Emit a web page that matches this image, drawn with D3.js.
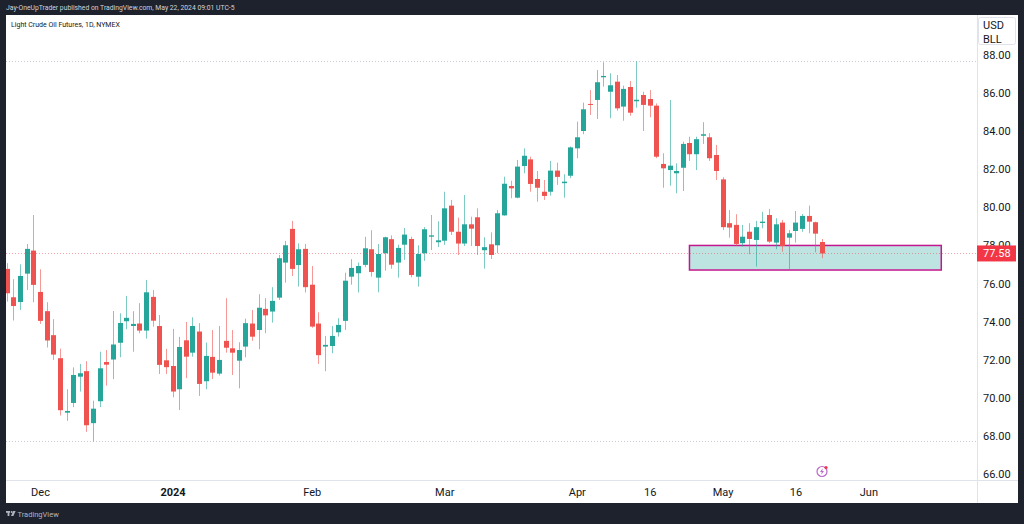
<!DOCTYPE html>
<html>
<head>
<meta charset="utf-8">
<script src="https://cdn.jsdelivr.net/npm/d3@7"></script>
<style>
  body { margin: 0; background: #1e222d; }
  svg { display: block; font-family: Roboto, "Noto Sans", sans-serif; }
</style>
</head>
<body>
<svg width="1024" height="524"></svg>
<script>
// daily bars, Light Crude Oil Futures (NYMEX)
const dates = [
  "2023-11-24", "2023-11-27", "2023-11-28", "2023-11-29", "2023-11-30",
  "2023-12-01", "2023-12-04", "2023-12-05", "2023-12-06", "2023-12-07", "2023-12-08", "2023-12-11", "2023-12-12", "2023-12-13", "2023-12-14",
  "2023-12-15", "2023-12-18", "2023-12-19", "2023-12-20", "2023-12-21", "2023-12-22", "2023-12-26", "2023-12-27", "2023-12-28", "2023-12-29",
  "2024-01-02", "2024-01-03", "2024-01-04", "2024-01-05", "2024-01-08", "2024-01-09", "2024-01-10", "2024-01-11", "2024-01-12", "2024-01-16",
  "2024-01-17", "2024-01-18", "2024-01-19", "2024-01-22", "2024-01-23", "2024-01-24", "2024-01-25", "2024-01-26", "2024-01-29", "2024-01-30", "2024-01-31",
  "2024-02-01", "2024-02-02", "2024-02-05", "2024-02-06", "2024-02-07", "2024-02-08", "2024-02-09", "2024-02-12", "2024-02-13", "2024-02-14",
  "2024-02-15", "2024-02-16", "2024-02-20", "2024-02-21", "2024-02-22", "2024-02-23", "2024-02-26", "2024-02-27", "2024-02-28", "2024-02-29",
  "2024-03-01", "2024-03-04", "2024-03-05", "2024-03-06", "2024-03-07", "2024-03-08", "2024-03-11", "2024-03-12", "2024-03-13", "2024-03-14",
  "2024-03-15", "2024-03-18", "2024-03-19", "2024-03-20", "2024-03-21", "2024-03-22", "2024-03-25", "2024-03-26", "2024-03-27", "2024-03-28",
  "2024-04-01", "2024-04-02", "2024-04-03", "2024-04-04", "2024-04-05", "2024-04-08", "2024-04-09", "2024-04-10", "2024-04-11", "2024-04-12",
  "2024-04-15", "2024-04-16", "2024-04-17", "2024-04-18", "2024-04-19", "2024-04-22", "2024-04-23", "2024-04-24", "2024-04-25", "2024-04-26",
  "2024-04-29", "2024-04-30",
  "2024-05-01", "2024-05-02", "2024-05-03", "2024-05-06", "2024-05-07", "2024-05-08", "2024-05-09", "2024-05-10", "2024-05-13", "2024-05-14",
  "2024-05-15", "2024-05-16", "2024-05-17", "2024-05-20", "2024-05-21", "2024-05-22"
];

const open = [
  76.77, 75.28, 75.03, 76.52, 77.73,
  75.56, 74.55, 73.29, 72.08, 69.22, 69.73, 71.11, 71.40, 68.67, 69.82,
  71.88, 72.01, 72.89, 74.02, 73.77, 73.90, 73.53, 75.30, 73.77, 71.97,
  71.67, 70.45, 73.02, 72.37, 73.48, 70.87, 72.15, 71.27, 72.99, 72.60,
  71.95, 72.69, 73.90, 73.56, 74.67, 74.53, 75.26, 77.10, 78.87, 76.97, 77.82,
  75.94, 73.90, 72.69, 72.72, 73.44, 74.04, 76.36, 76.54, 76.98, 77.80,
  76.31, 77.59, 78.33, 77.10, 78.04, 78.34, 76.36, 77.59, 78.46, 78.17,
  78.25, 80.09, 78.72, 78.10, 79.11, 79.48, 77.75, 78.06, 78.01, 79.58,
  81.12, 80.51, 82.17, 82.52, 81.49, 80.82, 80.82, 81.93, 81.27, 81.66,
  83.10, 84.01, 85.43, 85.64, 86.83, 86.07, 86.60, 85.29, 86.32, 85.57,
  85.90, 85.69, 85.34, 82.28, 81.96, 81.79, 82.08, 83.38, 82.79, 83.76,
  83.68, 82.75,
  81.47, 79.17, 79.08, 78.12, 78.72, 78.29, 79.18, 79.60, 78.15, 79.20,
  78.41, 78.76, 78.87, 79.55, 79.22, 78.18
];
const high = [
  77.07, 76.23, 77.01, 78.08, 79.60,
  76.75, 75.02, 74.13, 72.58, 70.45, 71.60, 71.78, 71.92, 69.85, 72.42,
  72.51, 74.56, 74.44, 75.35, 74.55, 74.97, 76.19, 75.66, 74.35, 72.57,
  73.62, 73.20, 73.98, 74.23, 73.92, 72.90, 73.56, 73.77, 75.23, 73.56,
  72.92, 74.16, 74.61, 75.44, 75.23, 75.81, 77.50, 78.24, 79.29, 78.11, 78.08,
  76.92, 74.49, 73.25, 73.77, 74.18, 76.57, 77.28, 77.10, 78.45, 78.80,
  78.08, 78.46, 78.53, 78.04, 78.92, 78.46, 78.01, 78.96, 79.60, 79.27,
  80.82, 80.39, 79.46, 80.65, 79.51, 79.95, 78.43, 78.69, 79.86, 81.61,
  81.40, 82.49, 83.10, 82.66, 81.91, 81.44, 82.44, 82.35, 81.74, 83.19,
  84.50, 85.50, 86.16, 87.21, 87.62, 87.04, 86.95, 86.39, 86.64, 87.67,
  86.07, 86.16, 85.46, 82.84, 85.64, 82.31, 83.45, 83.71, 83.71, 84.47,
  83.89, 83.28,
  81.58, 79.86, 79.64, 79.08, 79.17, 79.29, 79.77, 79.92, 79.43, 79.34,
  78.81, 79.81, 79.65, 80.09, 79.25, 78.34
];
const low = [
  75.05, 74.06, 74.61, 75.66, 75.02,
  73.88, 72.64, 71.99, 69.07, 68.79, 69.51, 70.33, 68.21, 67.71, 69.51,
  70.64, 70.98, 72.13, 73.60, 72.42, 73.39, 73.11, 73.74, 71.25, 71.25,
  70.03, 69.36, 71.03, 72.16, 70.10, 70.45, 70.98, 71.17, 72.37, 71.20,
  70.50, 72.13, 72.99, 72.55, 73.39, 73.95, 75.14, 76.05, 76.40, 75.84, 75.53,
  73.68, 71.78, 71.40, 72.34, 73.21, 73.56, 75.94, 75.53, 76.86, 76.36,
  75.54, 76.68, 76.78, 76.31, 77.24, 76.33, 75.84, 77.19, 77.76, 77.91,
  78.03, 78.55, 77.50, 77.97, 77.97, 77.50, 76.78, 77.29, 77.59, 79.56,
  80.48, 80.48, 81.79, 80.82, 80.30, 80.39, 80.62, 81.18, 80.51, 81.53,
  82.58, 83.84, 84.85, 84.64, 86.34, 84.68, 85.08, 84.55, 84.81, 85.23,
  84.01, 84.73, 82.58, 81.03, 81.14, 80.74, 80.86, 82.44, 81.96, 83.33,
  82.44, 81.44,
  78.81, 78.41, 77.99, 77.94, 77.54, 76.89, 78.90, 78.12, 77.80, 77.67,
  76.71, 78.15, 78.72, 78.64, 77.64, 77.33
];
const close = [
  75.49, 74.82, 76.40, 77.82, 75.93,
  74.04, 73.01, 72.27, 69.35, 69.31, 71.20, 71.29, 68.56, 69.43, 71.55,
  71.74, 72.80, 73.93, 74.20, 73.88, 73.53, 75.54, 74.05, 71.73, 71.61,
  70.33, 72.67, 72.16, 73.77, 70.73, 72.20, 71.32, 71.99, 72.63, 72.37,
  72.51, 73.92, 73.21, 74.73, 74.33, 75.09, 77.33, 78.01, 76.77, 77.80, 75.81,
  73.74, 72.24, 72.78, 73.25, 73.83, 76.15, 76.82, 76.92, 77.85, 76.61,
  77.55, 78.43, 76.99, 77.87, 78.57, 76.45, 77.55, 78.85, 78.53, 78.27,
  79.95, 78.72, 78.10, 79.11, 78.88, 77.97, 77.91, 77.50, 79.69, 81.24,
  81.00, 82.14, 82.71, 81.23, 81.03, 80.60, 81.93, 81.60, 81.35, 83.15,
  83.68, 85.15, 85.38, 86.57, 86.90, 86.41, 85.20, 86.22, 84.97, 85.65,
  85.38, 85.34, 82.66, 82.05, 82.19, 81.91, 83.33, 82.79, 83.58, 83.84,
  82.58, 81.91,
  78.96, 78.94, 78.08, 78.46, 78.34, 78.96, 79.25, 78.20, 79.11, 77.97,
  78.64, 79.20, 79.55, 79.25, 78.62, 77.58
];

// axis ticks
const priceTicks = [66, 68, 70, 72, 74, 76, 78, 80, 82, 84, 86, 88];
const timeTickLabels = ["Dec", "2024", "Feb", "Mar", "Apr", "16", "May", "16", "Jun"];
const timeTickBars = [5, 25, 46, 66, 86, 97, 108, 119, 130];
const yearTicks = ["2024"];

// price lines + support zone drawn on the chart
const lastPrice = 77.58;
const rangeHigh = 87.67, rangeLow = 67.71;
const zoneBars = [103, 141];
const zonePrices = [78.0, 76.71];

const svg = d3.select("svg");
const W = 1024, H = 524;
const pane = { left: 6, right: 1018, top: 15, bottom: 503 };
const plotRight = 977, plotBottom = 480;

const green = "#26a69a", red = "#ef5350";

// frame
svg.append("rect").attr("width", W).attr("height", H).attr("fill", "#1e222d");
svg.append("rect")
  .attr("x", pane.left).attr("y", pane.top)
  .attr("width", pane.right - pane.left).attr("height", pane.bottom - pane.top)
  .attr("fill", "#ffffff");

// header
svg.append("text")
  .attr("x", 6).attr("y", 10)
  .attr("font-size", 6.8).attr("fill", "#d1d4dc")
  .text("Jay-OneUpTrader published on TradingView.com, May 22, 2024 09:01 UTC-5");

// scales
const x = d3.scaleLinear().domain([5, 123]).range([40, 822]);
const y = d3.scaleLinear().domain([66, 88]).range([474, 55]);

svg.append("clipPath").attr("id", "plot-clip")
  .append("rect")
  .attr("x", pane.left).attr("y", pane.top)
  .attr("width", plotRight - pane.left).attr("height", plotBottom - pane.top);

const plot = svg.append("g").attr("clip-path", "url(#plot-clip)");

// high / low dotted lines
plot.selectAll(".range-line")
  .data([rangeHigh, rangeLow])
  .enter()
  .append("line")
  .attr("class", "range-line")
  .attr("x1", pane.left).attr("x2", plotRight)
  .attr("y1", (d) => Math.round(y(d)) + 0.5)
  .attr("y2", (d) => Math.round(y(d)) + 0.5)
  .attr("stroke", "#c9ccd4")
  .attr("stroke-dasharray", "1,2");

// support zone
plot.append("rect")
  .attr("x", x(zoneBars[0]))
  .attr("y", y(zonePrices[0]))
  .attr("width", x(zoneBars[1]) - x(zoneBars[0]))
  .attr("height", y(zonePrices[1]) - y(zonePrices[0]))
  .attr("fill", "#26a69a")
  .attr("fill-opacity", 0.3)
  .attr("stroke", "#c2188f")
  .attr("stroke-width", 1.5);

// candles
const bars = dates.map((d, i) => ({ date: d, i, o: open[i], h: high[i], l: low[i], c: close[i] }));

const candle = plot.selectAll(".candle")
  .data(bars)
  .enter()
  .append("g")
  .attr("class", "candle");

candle.append("line")
  .attr("x1", (d) => Math.round(x(d.i)) + 0.5)
  .attr("x2", (d) => Math.round(x(d.i)) + 0.5)
  .attr("y1", (d) => y(d.h))
  .attr("y2", (d) => y(d.l))
  .attr("stroke", (d) => d.c >= d.o ? green : red)
  .attr("stroke-opacity", 0.6);

candle.append("rect")
  .attr("x", (d) => Math.round(x(d.i)) - 2)
  .attr("width", 5)
  .attr("y", (d) => y(Math.max(d.o, d.c)))
  .attr("height", (d) => Math.max(1, Math.abs(y(d.o) - y(d.c))))
  .attr("fill", (d) => d.c >= d.o ? green : red);

// last price line
plot.append("line")
  .attr("x1", pane.left).attr("x2", plotRight)
  .attr("y1", Math.round(y(lastPrice)) + 0.5)
  .attr("y2", Math.round(y(lastPrice)) + 0.5)
  .attr("stroke", "#f23645")
  .attr("stroke-opacity", 0.45)
  .attr("stroke-dasharray", "1,2");

// title
svg.append("text")
  .attr("x", 11).attr("y", 26.5)
  .attr("font-size", 7).attr("fill", "#131722")
  .text("Light Crude Oil Futures, 1D, NYMEX");

// separators
svg.append("line")
  .attr("x1", plotRight + 0.5).attr("x2", plotRight + 0.5)
  .attr("y1", pane.top).attr("y2", pane.bottom)
  .attr("stroke", "#e0e3eb");
svg.append("line")
  .attr("x1", pane.left).attr("x2", pane.right)
  .attr("y1", plotBottom + 0.5).attr("y2", plotBottom + 0.5)
  .attr("stroke", "#e0e3eb");

// price axis
const yAxis = d3.axisRight(y)
  .tickValues(priceTicks)
  .tickFormat(d3.format(".2f"))
  .tickSize(0)
  .tickPadding(6);

const gy = svg.append("g")
  .attr("id", "y-axis")
  .attr("transform", `translate(${plotRight}, 0)`)
  .call(yAxis);
gy.select(".domain").remove();
gy.selectAll("text")
  .attr("font-family", "Roboto, sans-serif")
  .attr("font-size", 11)
  .attr("fill", "#131722");

// time axis
const xAxis = d3.axisBottom(x)
  .tickValues(timeTickBars)
  .tickFormat((d, i) => timeTickLabels[i])
  .tickSize(0)
  .tickPadding(8);

const gx = svg.append("g")
  .attr("id", "x-axis")
  .attr("transform", `translate(0, ${plotBottom})`)
  .call(xAxis);
gx.select(".domain").remove();
gx.selectAll("text")
  .attr("font-family", "Roboto, sans-serif")
  .attr("font-size", 11)
  .attr("fill", "#131722")
  .attr("font-weight", (d, i) => yearTicks.includes(timeTickLabels[i]) ? 700 : 400);

// currency box
svg.append("rect")
  .attr("x", 978.5).attr("y", 17.5)
  .attr("width", 37).attr("height", 27)
  .attr("rx", 2)
  .attr("fill", "#ffffff")
  .attr("stroke", "#e0e3eb");
svg.selectAll(".unit")
  .data(["USD", "BLL"])
  .enter()
  .append("text")
  .attr("class", "unit")
  .attr("x", 983)
  .attr("y", (d, i) => 29 + i * 14)
  .attr("font-size", 11)
  .attr("fill", "#131722")
  .text((d) => d);

// last price label
const lpY = y(lastPrice);
svg.append("rect")
  .attr("x", plotRight).attr("y", lpY - 8)
  .attr("width", 39).attr("height", 16)
  .attr("fill", "#f23645");
svg.append("text")
  .attr("x", 983).attr("y", lpY)
  .attr("dy", "0.35em")
  .attr("font-size", 11)
  .attr("fill", "#ffffff")
  .text(lastPrice.toFixed(2));

// event marker
const ev = svg.append("g").attr("transform", `translate(${x(123)}, 471.5)`);
ev.append("circle").attr("r", 5).attr("fill", "#ffffff").attr("stroke", "#ba68c8").attr("stroke-width", 1.2);
ev.append("path")
  .attr("d", "M0.8,-3.2 L-2,0.6 L-0.2,0.6 L-0.8,3.2 L2,-0.6 L0.2,-0.6 Z")
  .attr("fill", "#ba68c8");
ev.append("circle").attr("cx", 4).attr("cy", -4).attr("r", 1.6).attr("fill", "#f23645");

// footer logo
const logo = svg.append("g").attr("transform", "translate(6, 511)").attr("fill", "#b2b5be");
logo.append("rect").attr("x", 0).attr("y", 0).attr("width", 4).attr("height", 1.8);
logo.append("rect").attr("x", 1.6).attr("y", 0).attr("width", 1.8).attr("height", 5);
logo.append("circle").attr("cx", 5.6).attr("cy", 1).attr("r", 1);
logo.append("path").attr("d", "M7.2,0 L9.6,0 L7.4,5 L5,5 Z");
svg.append("text")
  .attr("x", 17.5).attr("y", 516.5)
  .attr("font-size", 7.5)
  .attr("fill", "#b2b5be")
  .text("TradingView");
</script>
</body>
</html>
